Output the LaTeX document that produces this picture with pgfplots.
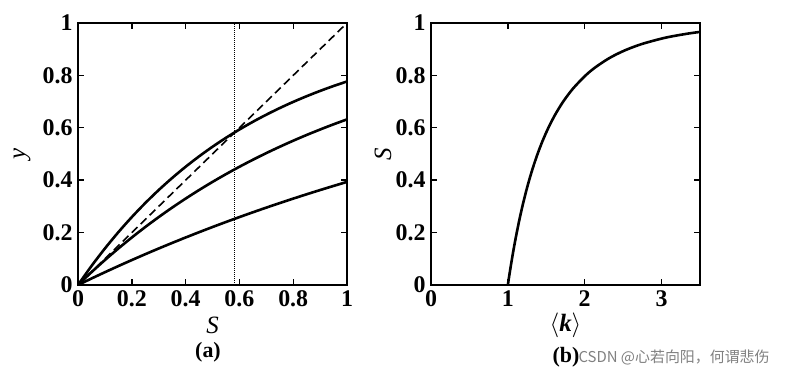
\documentclass[border=0pt]{standalone}
\usepackage{fontspec}
\setmainfont{Liberation Serif}
\newfontfamily\cjk{Noto Sans CJK SC}
\usepackage{pgfplots}
\pgfplotsset{compat=1.18}
\begin{document}
\begin{tikzpicture}
\useasboundingbox (0,0) rectangle (785bp,374bp);
\pgfplotsset{
  every axis/.append style={
    scale only axis, width=269bp, height=262bp,
    axis line style={line width=1.8bp},
    every tick/.style={line width=1.4bp, black},
    major tick length=6bp,
    tick align=inside,
    ticklabel style={font=\fontsize{24}{26}\selectfont\bfseries},
    xticklabel style={yshift=-2bp},
    yticklabel style={xshift=-2bp},
    /pgf/number format/assume math mode=true,
    label style={font=\fontsize{25}{27}\selectfont},
    ymin=0, ymax=1, ytick={0,0.2,0.4,0.6,0.8,1},
    xlabel style={at={(axis description cs:0.5,0)}, anchor=center, yshift=-40bp},
  }
}
\begin{axis}[at={(78bp,89bp)}, anchor=south west,
  xmin=0, xmax=1, xtick={0,0.2,0.4,0.6,0.8,1},
  xlabel={\textit{S}}, ylabel={\textit{y}},
  ylabel style={at={(axis description cs:-0.208,0.5)}, anchor=center}]
\addplot[black, line width=2.6bp, smooth] coordinates {
(0,0)(0.05,0.07226)(0.1,0.13929)(0.15,0.20148)(0.2,0.25918)(0.25,0.31271)
(0.3,0.36237)(0.35,0.40844)(0.4,0.45119)(0.45,0.49084)(0.5,0.52763)
(0.55,0.56177)(0.6,0.59343)(0.65,0.62281)(0.7,0.65006)(0.75,0.67535)
(0.8,0.69881)(0.85,0.72057)(0.9,0.74076)(0.95,0.75949)(1,0.77687)};
\addplot[black, line width=2.6bp, smooth] coordinates {
(0,0)(0.05,0.04877)(0.1,0.09516)(0.15,0.13929)(0.2,0.18127)(0.25,0.22120)
(0.3,0.25918)(0.35,0.29531)(0.4,0.32968)(0.45,0.36237)(0.5,0.39347)
(0.55,0.42305)(0.6,0.45119)(0.65,0.47795)(0.7,0.50341)(0.75,0.52763)
(0.8,0.55067)(0.85,0.57260)(0.9,0.59343)(0.95,0.61326)(1,0.63212)};
\addplot[black, line width=2.6bp, smooth] coordinates {
(0,0)(0.05,0.02469)(0.1,0.04877)(0.15,0.07226)(0.2,0.09516)(0.25,0.11750)
(0.3,0.13929)(0.35,0.16054)(0.4,0.18127)(0.45,0.20148)(0.5,0.22120)
(0.55,0.24043)(0.6,0.25918)(0.65,0.27747)(0.7,0.29531)(0.75,0.31271)
(0.8,0.32968)(0.85,0.34623)(0.9,0.36237)(0.95,0.37811)(1,0.39347)};
\addplot[black, line width=1.6bp, dash pattern=on 8bp off 4.5bp] coordinates {(0,0)(1,1)};
\addplot[black, line width=1.2bp, dash pattern=on 1bp off 1bp] coordinates {(0.583,0)(0.583,1)};
\end{axis}
\begin{axis}[at={(431bp,89bp)}, anchor=south west,
  xmin=0, xmax=3.5, xtick={0,1,2,3},
  xlabel={$\langle$\textbf{\textit{k}}$\rangle$}, ylabel={\textit{S}},
  ylabel style={at={(axis description cs:-0.178,0.5)}, anchor=center}]
\addplot[black, line width=2.6bp] coordinates {(0,0)(1,0)};
\addplot[black, line width=2.6bp, smooth] coordinates {
(1,0)(1.00503,0.01)(1.01013,0.02)(1.02587,0.05)(1.05361,0.1)(1.08346,0.15)
(1.11572,0.2)(1.15073,0.25)(1.18892,0.3)(1.23081,0.35)(1.27706,0.4)
(1.32853,0.45)(1.38629,0.5)(1.45183,0.55)(1.52715,0.6)(1.61511,0.65)
(1.71996,0.7)(1.84839,0.75)(2.01180,0.8)(2.13489,0.83)(2.28618,0.86)
(2.40939,0.88)(2.55843,0.9)(2.74536,0.92)(2.99299,0.94)(3.15340,0.95)
(3.35300,0.96)(3.5,0.966)};
\end{axis}
\node[font=\fontsize{22}{24}\selectfont\bfseries] at (208bp,22bp) {(a)};
\node[font=\fontsize{22}{24}\selectfont\bfseries] at (566bp,17bp) {(b)};
\node[anchor=west, text=black!50, font=\cjk\fontsize{15}{17}\selectfont] at (575bp,17bp) {CSDN @心若向阳，何谓悲伤};
\end{tikzpicture}
\end{document}
